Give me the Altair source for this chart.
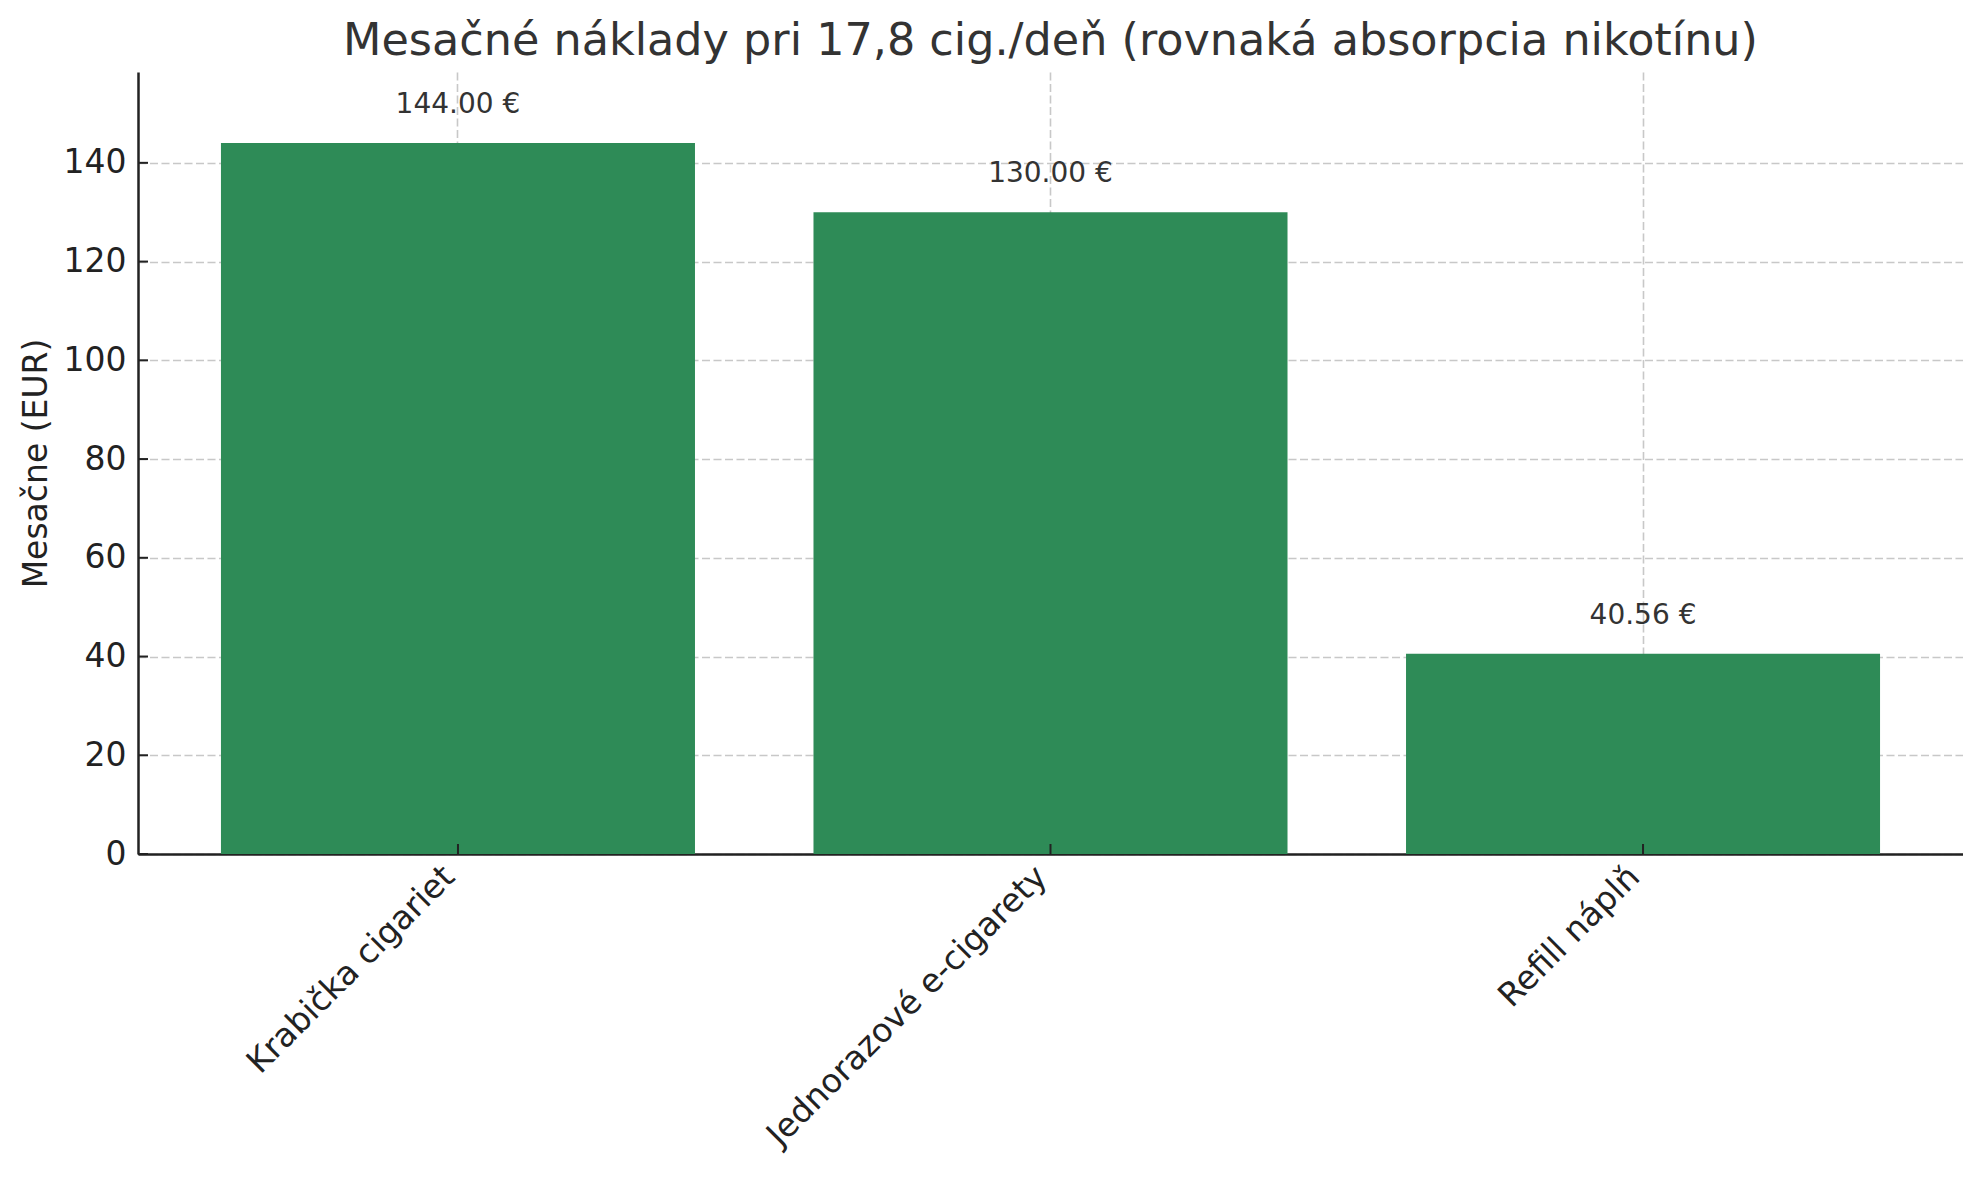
import altair as alt
import pandas as pd

categories = ["Krabička cigariet", "Jednorazové e-cigarety", "Refill náplň"]
values = [144.00, 130.00, 40.56]
y_ticks = [0, 20, 40, 60, 80, 100, 120, 140]

df = pd.DataFrame({"category": categories, "value": values})
ticks_df = pd.DataFrame({"value": y_ticks})

W, H = 1825, 782
FONT = "DejaVu Sans"

x_scale = alt.Scale(domain=categories, paddingInner=0.2, paddingOuter=0.14)
y_scale = alt.Scale(domain=[0, 158.4], nice=False, zero=True)

x_axis = alt.Axis(title=None, labelAngle=-45, labelAlign="right",
                  labelBaseline="top", labelPadding=6, labelOffset=-20,
                  ticks=False, grid=True, bandPosition=0.5, labelFontSize=33,
                  labelColor="#222222", labelLimit=0, labelFont=FONT)
y_axis = alt.Axis(title="Mesačne (EUR)", values=y_ticks, ticks=False,
                  labelPadding=12, grid=True, labelFontSize=33,
                  titleFontSize=33, titlePadding=10,
                  titleFontWeight="normal", labelColor="#222222",
                  titleColor="#222222", labelFont=FONT, titleFont=FONT)

base = alt.Chart(df)

bars = base.mark_bar(color="#2E8B57").encode(
    x=alt.X("category:N", scale=x_scale, sort=categories, axis=x_axis),
    y=alt.Y("value:Q", scale=y_scale, axis=y_axis),
)

labels = base.mark_text(fontSize=28, font=FONT, color="#333333",
                        baseline="middle", dy=-38).transform_calculate(
    label="format(datum.value, '.2f') + ' €'"
).encode(
    x=alt.X("category:N", scale=x_scale, sort=categories, axis=x_axis),
    y=alt.Y("value:Q", scale=y_scale, axis=y_axis),
    text="label:N",
)

ytick_rules = alt.Chart(ticks_df).mark_rule(color="#222222", strokeWidth=2).encode(
    y=alt.Y("value:Q", scale=y_scale, axis=y_axis),
    x=alt.value(0),
    x2=alt.value(10),
)

xtick_rules = base.mark_rule(color="#222222", strokeWidth=2).encode(
    x=alt.X("category:N", scale=x_scale, sort=categories, axis=x_axis),
    y=alt.value(H - 10),
    y2=alt.value(H),
)

chart = alt.layer(bars, labels, ytick_rules, xtick_rules).properties(
    width=W,
    height=H,
    background="white",
    title=alt.TitleParams(
        "Mesačné náklady pri 17,8 cig./deň (rovnaká absorpcia nikotínu)",
        fontSize=44.5, font=FONT, fontWeight="normal", color="#333333",
        anchor="middle", offset=8,
    ),
    autosize=alt.AutoSizeParams(type="none"),
    padding={"left": 130, "top": 64, "right": 0, "bottom": 300},
).configure_view(strokeWidth=0).configure_axis(
    labelFont=FONT, titleFont=FONT,
    domainColor="#222222", domainWidth=2.5,
    gridColor="#b0b0b0", gridOpacity=0.7, gridDash=[8, 3.5], gridWidth=1.6,
    zindex=1,
)

chart.save("out.html", embed_options={"renderer": "svg", "actions": False})
